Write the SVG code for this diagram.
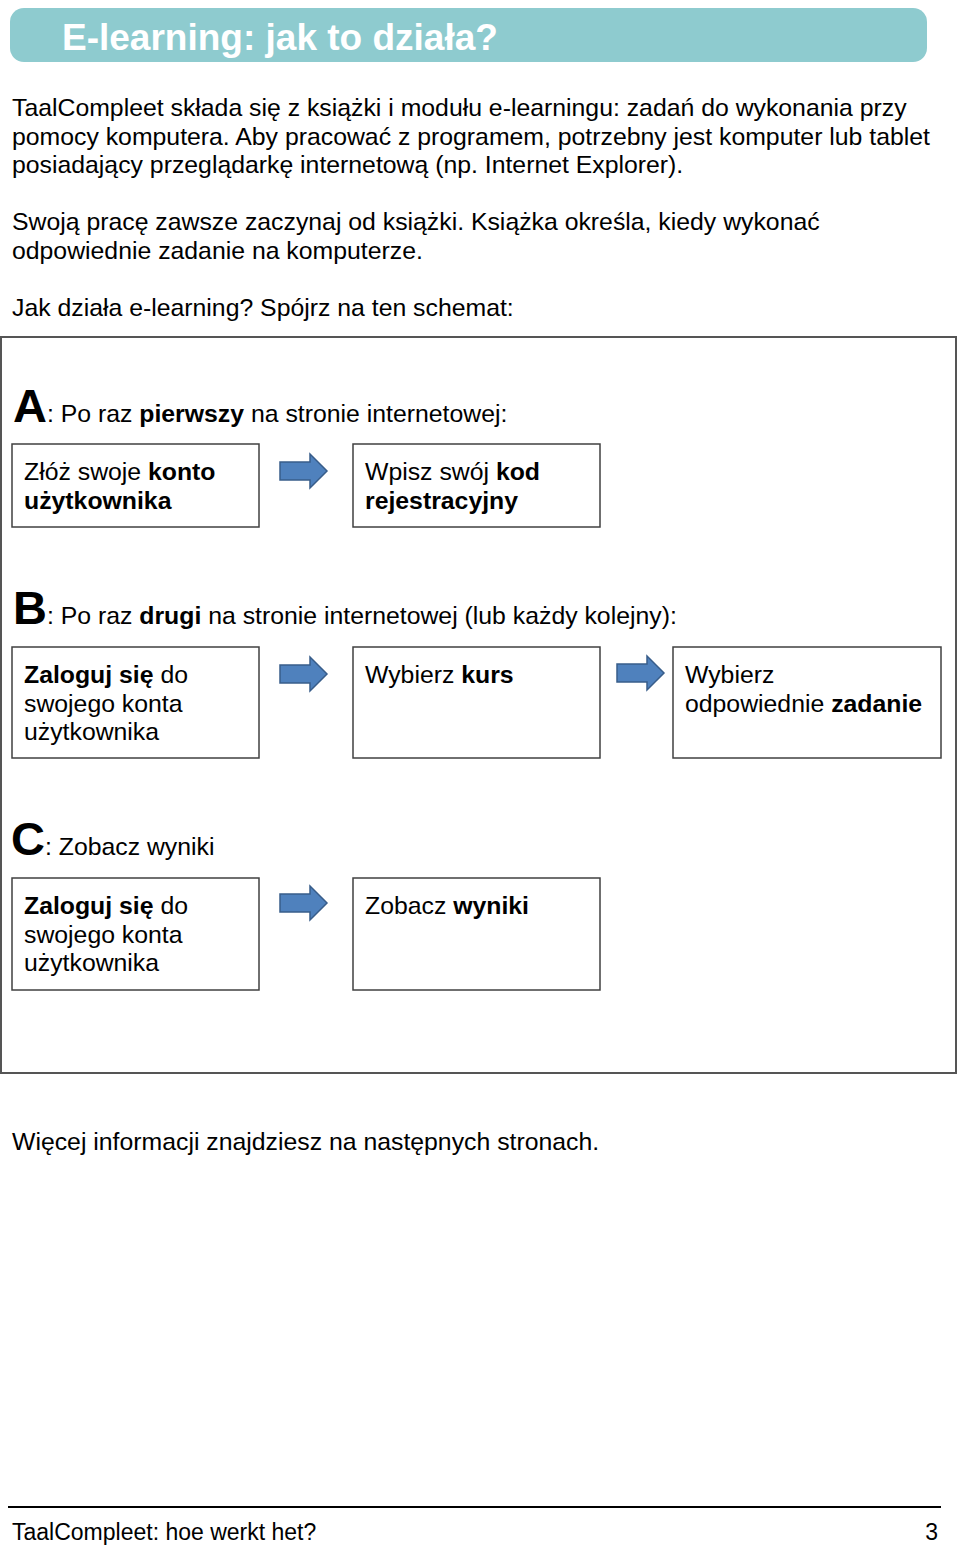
<svg xmlns="http://www.w3.org/2000/svg" width="960" height="1546" viewBox="0 0 960 1546">
<style>
text{font-family:"Liberation Sans",Arial,sans-serif;fill:#000;}
.t{font-size:24.8px;}
.b{font-weight:bold;}
.big{font-size:47px;font-weight:bold;}
.box{fill:#fff;stroke:#404040;stroke-width:1.5;}
.arr{fill:#4f81bd;stroke:#385d8a;stroke-width:1.5;}
</style>
<defs>
<path id="arrow" class="arr" d="M0,8 H30 V0 L47,17 L30,34 V26 H0 Z"/>
</defs>
<rect width="960" height="1546" fill="#fff"/>
<g id="title">
<rect x="10" y="8" width="917" height="54" rx="14" fill="#8ecbcf"/>
<text x="62" y="50" style="font-size:37px;font-weight:bold;fill:#fff">E-learning: jak to działa?</text>
</g>
<g id="intro">
<text class="t" x="12" y="116">TaalCompleet składa się z książki i modułu e-learningu: zadań do wykonania przy</text>
<text class="t" x="12" y="145">pomocy komputera. Aby pracować z programem, potrzebny jest komputer lub tablet</text>
<text class="t" x="12" y="173">posiadający przeglądarkę internetową (np. Internet Explorer).</text>
<text class="t" x="12" y="230">Swoją pracę zawsze zaczynaj od książki. Książka określa, kiedy wykonać</text>
<text class="t" x="12" y="259">odpowiednie zadanie na komputerze.</text>
<text class="t" x="12" y="316">Jak działa e-learning? Spójrz na ten schemat:</text>
</g>
<rect id="frame" x="1" y="337" width="955" height="736" fill="none" stroke="#555" stroke-width="2"/>
<g id="sectionA">
<text x="13" y="422"><tspan class="big">A</tspan><tspan class="t">: Po raz </tspan><tspan class="t b">pierwszy</tspan><tspan class="t"> na stronie internetowej:</tspan></text>
</g>
<g id="nodeA1">
<rect class="box" x="12" y="444" width="247" height="83"/>
<text class="t" x="24" y="480">Złóż swoje <tspan class="b">konto</tspan></text>
<text class="t b" x="24" y="509">użytkownika</text>
</g>
<g id="nodeA2">
<rect class="box" x="353" y="444" width="247" height="83"/>
<text class="t" x="365" y="480">Wpisz swój <tspan class="b">kod</tspan></text>
<text class="t b" x="365" y="509">rejestracyjny</text>
</g>
<g id="sectionB">
<text x="13" y="624"><tspan class="big">B</tspan><tspan class="t">: Po raz </tspan><tspan class="t b">drugi</tspan><tspan class="t"> na stronie internetowej (lub każdy kolejny):</tspan></text>
</g>
<g id="nodeB1">
<rect class="box" x="12" y="647" width="247" height="111"/>
<text class="t" x="24" y="683"><tspan class="b">Zaloguj się</tspan> do</text>
<text class="t" x="24" y="712">swojego konta</text>
<text class="t" x="24" y="740">użytkownika</text>
</g>
<g id="nodeB2">
<rect class="box" x="353" y="647" width="247" height="111"/>
<text class="t" x="365" y="683">Wybierz <tspan class="b">kurs</tspan></text>
</g>
<g id="nodeB3">
<rect class="box" x="673" y="647" width="268" height="111"/>
<text class="t" x="685" y="683">Wybierz</text>
<text class="t" x="685" y="712">odpowiednie <tspan class="b">zadanie</tspan></text>
</g>
<g id="sectionC">
<text x="11" y="855"><tspan class="big">C</tspan><tspan class="t">: Zobacz wyniki</tspan></text>
</g>
<g id="nodeC1">
<rect class="box" x="12" y="878" width="247" height="112"/>
<text class="t" x="24" y="914"><tspan class="b">Zaloguj się</tspan> do</text>
<text class="t" x="24" y="943">swojego konta</text>
<text class="t" x="24" y="971">użytkownika</text>
</g>
<g id="nodeC2">
<rect class="box" x="353" y="878" width="247" height="112"/>
<text class="t" x="365" y="914">Zobacz <tspan class="b">wyniki</tspan></text>
</g>
<g id="connectors">
<use href="#arrow" x="280" y="454"/>
<use href="#arrow" x="280" y="657"/>
<use href="#arrow" x="617" y="656"/>
<use href="#arrow" x="280" y="886"/>
</g>
<g id="outro">
<text class="t" x="12" y="1150">Więcej informacji znajdziesz na następnych stronach.</text>
</g>
<g id="footer">
<line x1="8" y1="1507" x2="941" y2="1507" stroke="#000" stroke-width="2"/>
<text x="12" y="1540" style="font-size:23px">TaalCompleet: hoe werkt het?</text>
<text x="938" y="1540" text-anchor="end" style="font-size:23px">3</text>
</g>
</svg>
